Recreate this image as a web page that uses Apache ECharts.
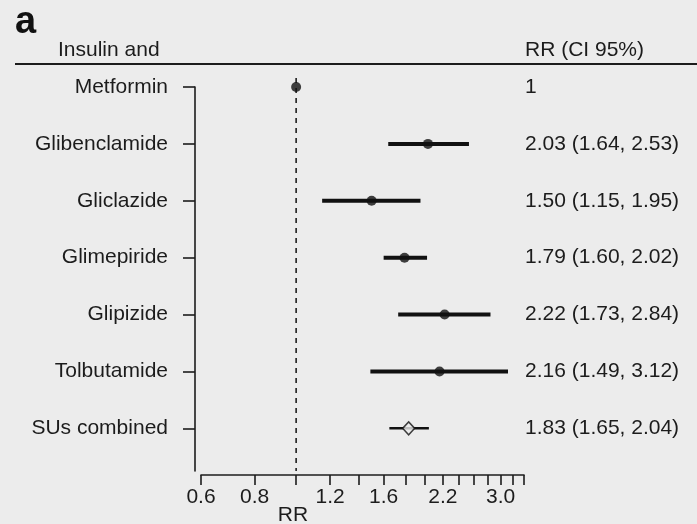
<!DOCTYPE html>
<html><head><meta charset="utf-8">
<script src="https://cdn.jsdelivr.net/npm/echarts@6/dist/echarts.min.js"></script>
<style>html,body{margin:0;padding:0;background:#ececec;}#c{width:697px;height:524px;}</style>
</head><body><div id="c"></div>
<script>
const names = ['Metformin','Glibenclamide','Gliclazide','Glimepiride','Glipizide','Tolbutamide','SUs combined'];
const rr    = [1.00, 2.03, 1.50, 1.79, 2.22, 2.16, 1.83];
const lo    = [null, 1.64, 1.15, 1.60, 1.73, 1.49, 1.65];
const hi    = [null, 2.53, 1.95, 2.02, 2.84, 3.12, 2.04];
const ciText = ['1','2.03 (1.64, 2.53)','1.50 (1.15, 1.95)','1.79 (1.60, 2.02)','2.22 (1.73, 2.84)','2.16 (1.49, 3.12)','1.83 (1.65, 2.04)'];
const xTicks = [0.6,0.8,1.0,1.2,1.4,1.6,1.8,2.0,2.2,2.4,2.6,2.8,3.0,3.2,3.4];
const xLabels = [0.6,0.8,1.2,1.6,2.2,3.0];
const xMin = 0.6, xMax = 3.4;
const combinedIdx = 6;

const FONT = "'Liberation Sans', Arial, Helvetica, sans-serif";
const FS = 21;
const INK = '#1c1c1c';
const MARK = '#111111';
const ln = Math.log;

const rows = names.map((n,i)=>i);
const ciInd = [], ciComb = [], ptInd = [], ptComb = [];
rows.forEach(i=>{
  if (lo[i] != null) (i===combinedIdx ? ciComb : ciInd).push([ln(lo[i]), ln(hi[i]), i]);
  (i===combinedIdx ? ptComb : ptInd).push([ln(rr[i]), i]);
});
const yMax = 6.75;

const chart = echarts.init(document.getElementById('c'), null, {renderer:'canvas'});
function ciRender(width){
  return function(params, api){
    const a = api.coord([api.value(0), api.value(2)]);
    const b = api.coord([api.value(1), api.value(2)]);
    return {type:'line', shape:{x1:a[0],y1:a[1],x2:b[0],y2:b[1]}, style:{stroke:MARK, lineWidth:width}};
  };
}
chart.setOption({
  backgroundColor:'#ececec',
  animation:false,
  grid:{left:201, right:173, top:87, bottom:53, containLabel:false},
  xAxis:{
    type:'value', min:ln(xMin), max:ln(xMax), offset:4,
    axisLine:{show:true, onZero:false, lineStyle:{color:INK, width:1.6}},
    axisTick:{show:true, length:10, inside:false, customValues:xTicks.map(ln), lineStyle:{color:INK, width:1.6}},
    axisLabel:{customValues:xLabels.map(ln), margin:12, fontFamily:FONT, fontSize:FS, color:INK,
      formatter:v=>Math.exp(v).toFixed(1)},
    splitLine:{show:false}
  },
  yAxis:{
    type:'value', inverse:true, min:0, max:yMax, offset:6,
    axisLine:{show:true, onZero:false, lineStyle:{color:INK, width:1.6}},
    axisTick:{show:true, length:12, customValues:rows, lineStyle:{color:INK, width:1.6}},
    axisLabel:{customValues:rows, margin:27, fontFamily:FONT, fontSize:FS, color:INK,
      formatter:v=>names[Math.round(v)]},
    splitLine:{show:false}
  },
  graphic:[
    {type:'text', left:15, top:4, style:{text:'a', font:"bold 38px "+FONT, fill:'#111'}},
    {type:'text', x:58, y:50, style:{text:'Insulin and', font:FS+"px "+FONT, fill:INK, textVerticalAlign:'middle'}},
    {type:'text', x:525, y:50, style:{text:'RR (CI 95%)', font:FS+"px "+FONT, fill:INK, textVerticalAlign:'middle'}},
    {type:'line', shape:{x1:15,y1:64,x2:697,y2:64}, style:{stroke:INK, lineWidth:2}},
    {type:'text', x:293, y:515, style:{text:'RR', font:FS+"px "+FONT, fill:INK, textAlign:'center', textVerticalAlign:'middle'}}
  ],
  series:[
    {type:'custom', data:[[ln(1), 0, yMax]], clip:false, z:1,
      renderItem:(params, api)=>{
        const a = api.coord([api.value(0), api.value(1)]);
        const b = api.coord([api.value(0), api.value(2)]);
        return {type:'line', shape:{x1:a[0],y1:a[1]-9,x2:b[0],y2:b[1]}, style:{stroke:MARK, lineWidth:1.5, lineDash:[5,5]}};
      }},
    {type:'custom', data:ciInd, renderItem:ciRender(4), z:2},
    {type:'custom', data:ciComb, renderItem:ciRender(2.5), z:2},
    {type:'scatter', data:ptInd, symbol:'circle', symbolSize:10, itemStyle:{color:MARK}, z:3},
    {type:'scatter', data:ptComb, symbol:'diamond', symbolSize:[12,13], itemStyle:{color:'#ececec', borderColor:MARK, borderWidth:1.5}, z:3},
    {type:'custom', data:rows.map(i=>[0,i]), clip:false, z:3,
      renderItem:(params, api)=>{
        const p = api.coord([api.value(0), api.value(1)]);
        return {type:'text', x:525, y:p[1], style:{text:ciText[params.dataIndex], font:FS+"px "+FONT, fill:INK, textVerticalAlign:'middle'}};
      }}
  ]
});
</script></body></html>
